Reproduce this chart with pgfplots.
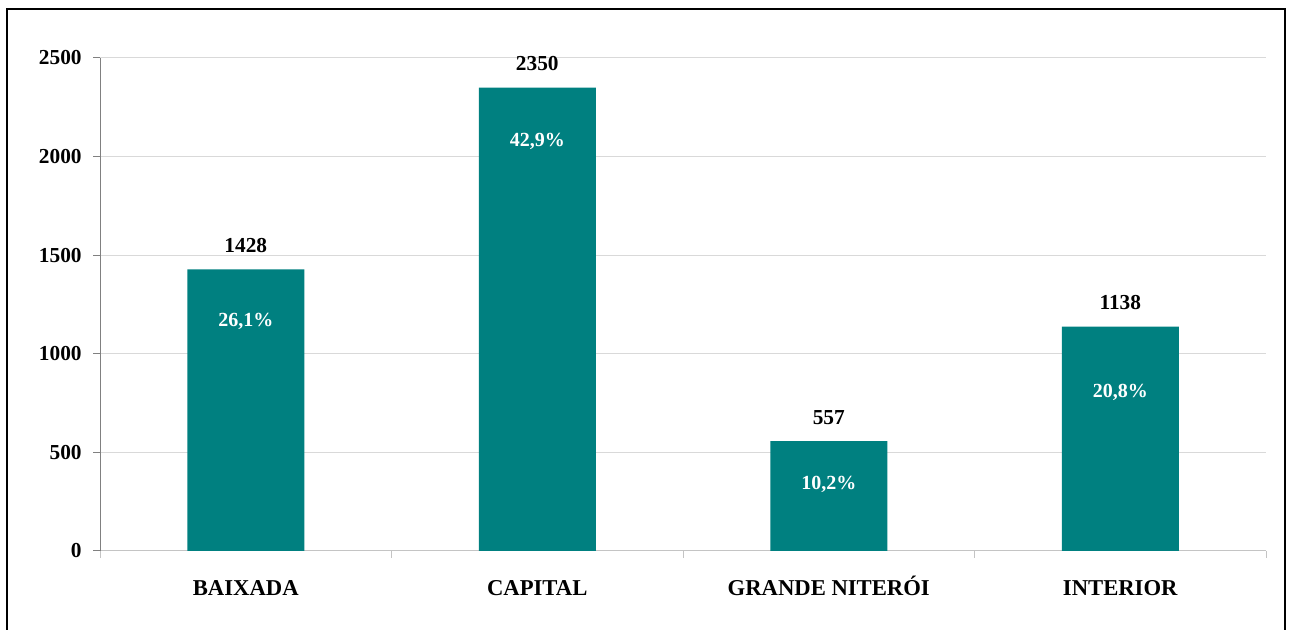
\documentclass[border=0pt]{standalone}
\usepackage{pgfplots}
\pgfplotsset{compat=1.18}
\usepackage{fontspec}
\setmainfont{Liberation Serif}
\definecolor{barteal}{RGB}{0,128,128}
\definecolor{yax}{RGB}{128,128,128}
\definecolor{xax}{RGB}{196,196,196}
\definecolor{gridc}{RGB}{217,217,217}
\begin{document}
\begin{tikzpicture}
\useasboundingbox (0,0) rectangle (969pt,472.5pt);
\begin{scope}
\clip (0,0) rectangle (969pt,472.5pt);
\draw[line width=1.1pt] (5.25pt,-10pt) rectangle (963.75pt,465.75pt);
\end{scope}
\begin{axis}[
  at={(75pt,59.25pt)}, anchor=south west, scale only axis,
  width=874.5pt, height=369.75pt,
  xmin=-0.5, xmax=3.5, ymin=0, ymax=2500,
  ybar, bar width=87.75pt,
  axis lines=left, axis line style={-},
  x axis line style={draw=xax, line width=0.75pt},
  y axis line style={draw=yax, line width=0.75pt},
  ytick={0,500,...,2500},
  ymajorgrids, grid style={draw=gridc, line width=0.75pt},
  xtick={0,1,2,3},
  xticklabels={BAIXADA, CAPITAL, GRANDE NITERÓI, INTERIOR},
  major x tick style={draw=none},
  minor xtick={-0.5,0.5,1.5,2.5,3.5},
  minor x tick style={draw=xax, line width=0.75pt},
  major y tick style={draw=yax, line width=0.75pt},
  tick align=outside, major tick length=5.25pt, minor tick length=5.25pt,
  yticklabel style={font=\bfseries\fontsize{16}{16}\selectfont, xshift=-5pt, /pgf/number format/assume math mode=true},
  /pgf/number format/1000 sep={},
  xticklabel style={font=\bfseries\fontsize{17}{17}\selectfont, anchor=base, yshift=-28pt},
  clip=false,
]
\addplot[fill=barteal, draw=none, bar shift=0pt,
  nodes near coords,
  nodes near coords style={font=\bfseries\fontsize{16}{16}\selectfont, anchor=base, yshift=12.5pt, /pgf/number format/assume math mode=true},
] coordinates {(0,1428) (1,2350) (2,557) (3,1138)};
\addplot[draw=none, fill=none, bar shift=0pt,
  point meta=explicit symbolic,
  nodes near coords,
  nodes near coords style={font=\bfseries\fontsize{15}{15}\selectfont, text=white, anchor=base, yshift=0pt},
] coordinates {(0,1136) [{26,1\%}] (1,2049) [{42,9\%}] (2,314) [{10,2\%}] (3,776) [{20,8\%}]};
\end{axis}
\end{tikzpicture}
\end{document}
